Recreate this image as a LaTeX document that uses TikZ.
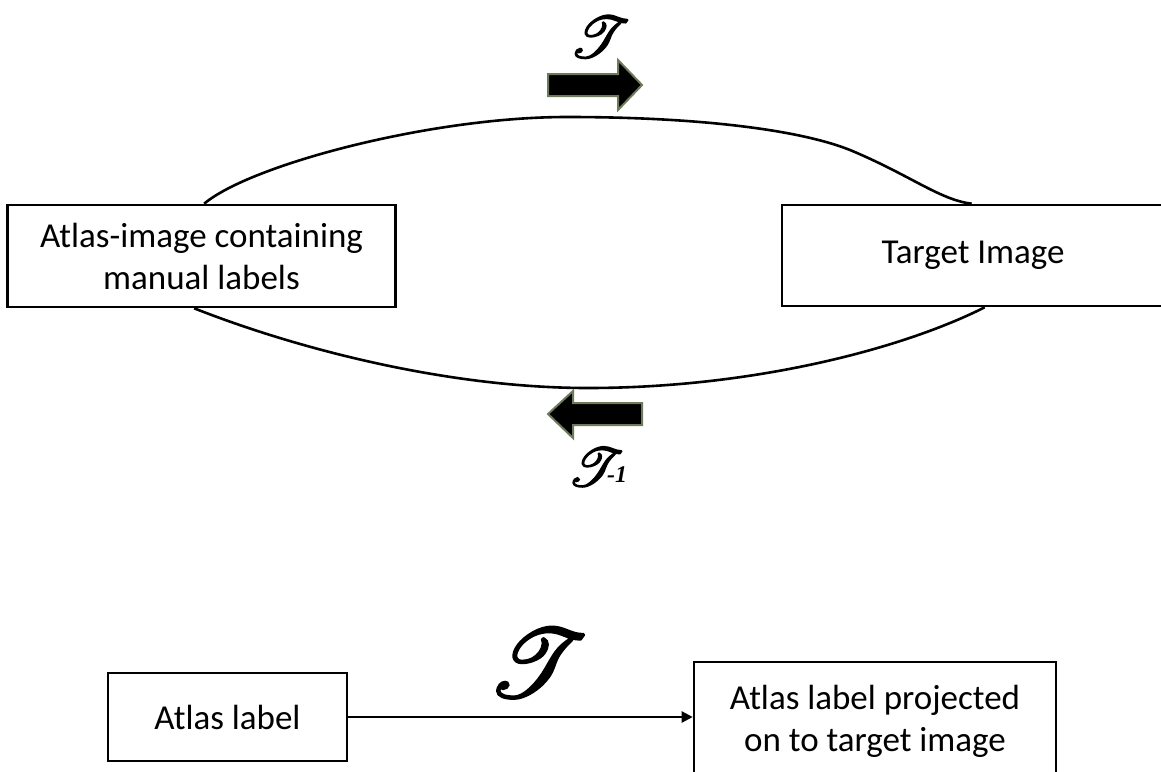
\documentclass[tikz,border=0pt]{standalone}
\usepackage{fontspec}
\setmainfont{Carlito}
\newfontfamily\tnrfont{Liberation Serif}
\usepackage{mathrsfs}
\usetikzlibrary{arrows.meta,calc}
\definecolor{arrowedge}{HTML}{6E7A5C}
\newcommand{\bigT}[2]{\scalebox{#1}{\special{pdf:literal direct 2 Tr #2 w}$\mathscr{T}$\special{pdf:literal direct 0 Tr}}}
\tikzset{
  boxnode/.style={draw=black, line width=2.6pt, inner sep=0pt, align=center,
    font=\fontsize{35}{42}\selectfont},
  curve/.style={draw=black, line width=2.6pt},
  blockarrow/.style={fill=black, draw=arrowedge, line width=2pt, line join=miter},
  scriptT/.style={inner sep=0pt}
}
\begin{document}
\begin{tikzpicture}[x=1pt,y=-1pt]
\useasboundingbox (0,0) rectangle (1161,771);
% top boxes
\node[boxnode, minimum width=388pt, minimum height=102pt] (A) at (201.5,256)
  {Atlas-image containing\\manual labels};
\node[boxnode, minimum width=382pt, minimum height=101pt] (B) at (973,255.5)
  {Target Image};
% curves
\draw[curve] ([xshift=198pt]A.north west)
  .. controls (250,165) and (430,117) .. (567,117)
  .. controls (700,117) and (800,130) .. (850,150)
  .. controls (910,175) and (940,200) .. ([xshift=191pt]B.north west);
\draw[curve] ([xshift=188pt]A.south west)
  .. controls (300,350) and (450,388) .. (588,388)
  .. controls (750,388) and (900,350) .. ([xshift=204pt]B.south west);
% block arrows
\draw[blockarrow] (548,74) -- (618,74) -- (618,60) -- (642,85) -- (618,110)
  -- (618,96) -- (548,96) -- cycle;
\draw[blockarrow] (642,403) -- (573,403) -- (573,391) -- (548,414) -- (573,438)
  -- (573,425) -- (642,425) -- cycle;
% T symbols
\node[scriptT] (T1) at (600,37) {\bigT{5.8}{0.25}};
\node[scriptT] (T2) at (596,467) {\bigT{5.4}{0.25}};
\node[scriptT, font=\fontsize{24}{28}\selectfont\tnrfont\itshape\bfseries] (T2e)
  at (617,475) {-1};
% bottom boxes
\node[boxnode, minimum width=239pt, minimum height=88pt] (L) at (227.5,717) {Atlas label};
\node[boxnode, minimum width=362pt, minimum height=118pt] (R) at (875,721)
  {Atlas label projected\\on to target image};
\draw[line width=2.4pt, -{Triangle[length=11pt,width=11pt]}] (L.east) -- (L.east -| R.west);
\node[scriptT] (T3) at (538,663) {\bigT{9.6}{0.25}};
\end{tikzpicture}
\end{document}
